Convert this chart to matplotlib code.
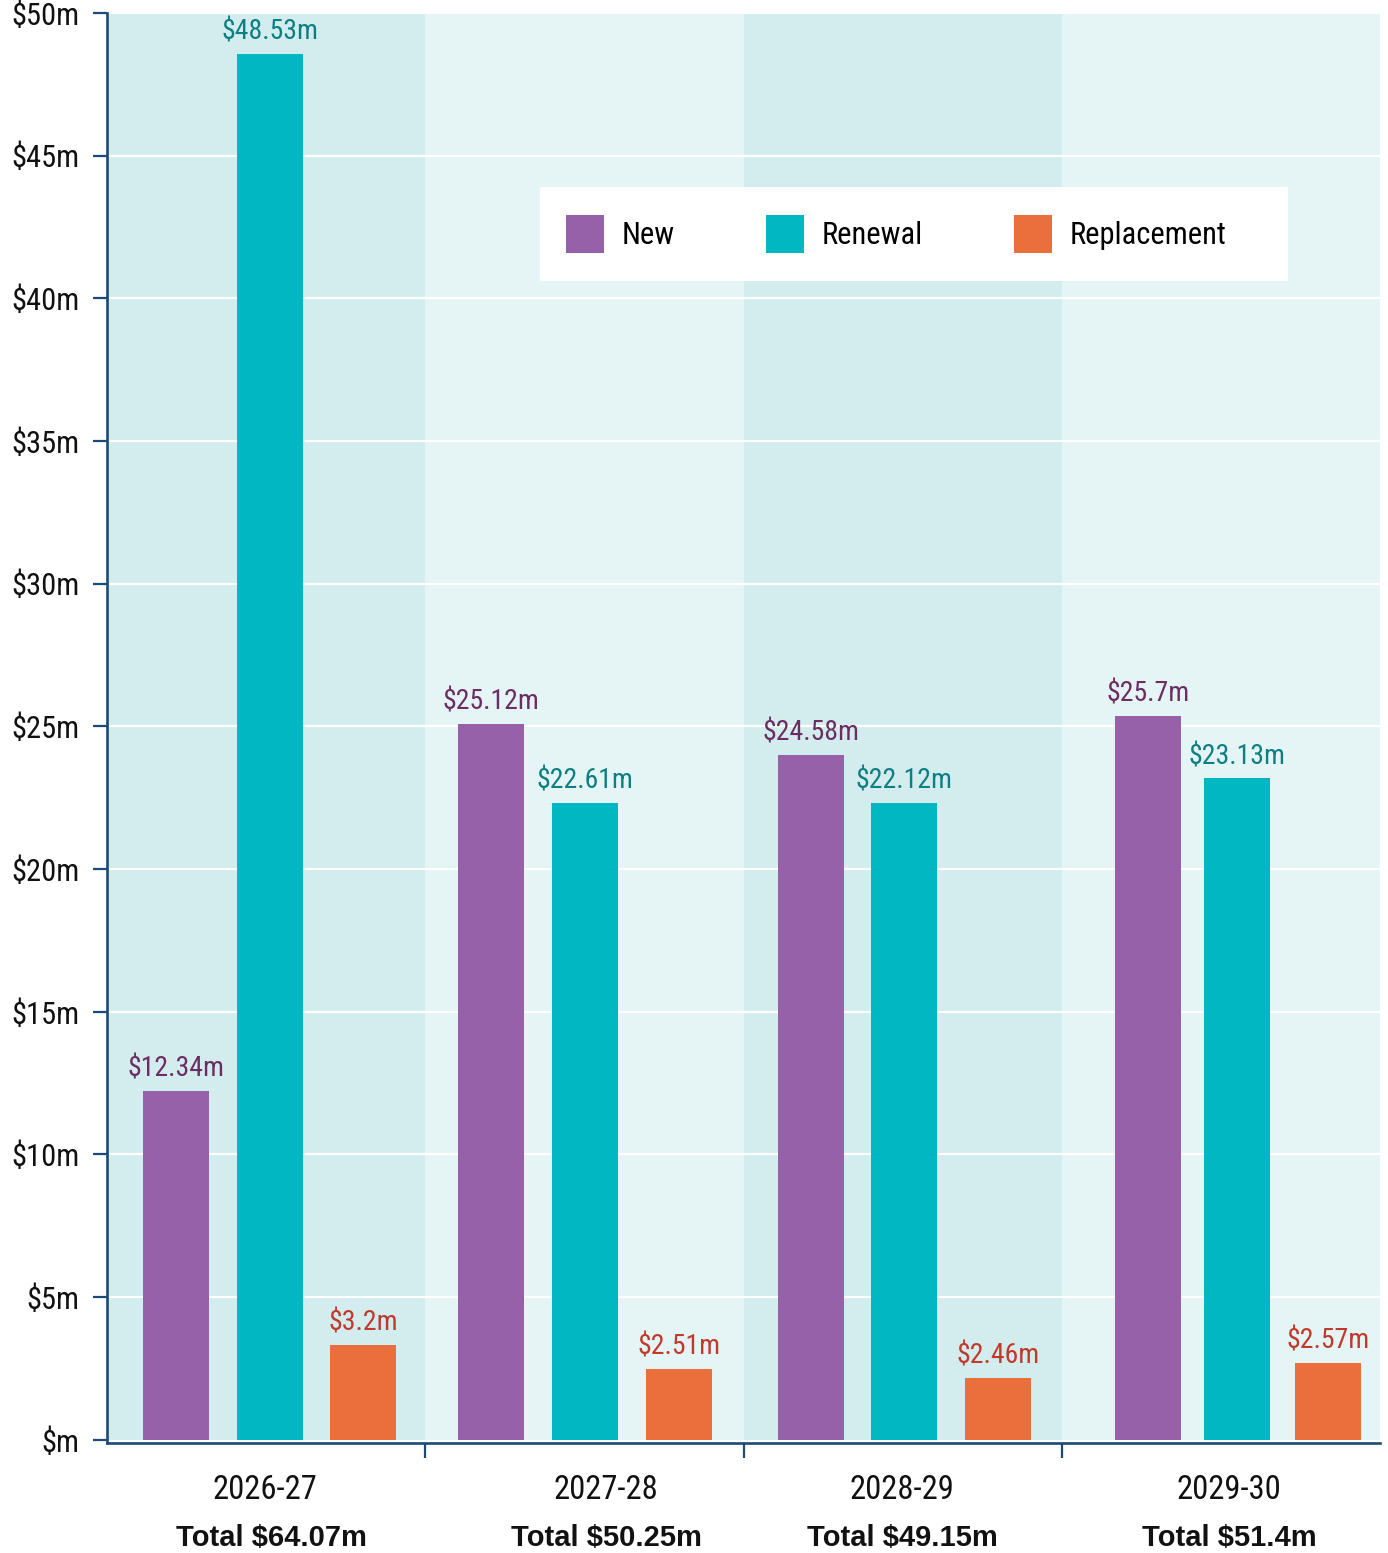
import matplotlib
matplotlib.use("Agg")
import matplotlib.pyplot as plt
from matplotlib.patches import Patch, Rectangle
from matplotlib import font_manager

# ---------------- data ----------------
years = ["2026-27", "2027-28", "2028-29", "2029-30"]
totals = ["Total $64.07m", "Total $50.25m", "Total $49.15m", "Total $51.4m"]
series = ["New", "Renewal", "Replacement"]
new_vals = [12.23, 25.10, 24.00, 25.37]
renewal_vals = [48.56, 22.33, 22.33, 23.18]
replacement_vals = [3.33, 2.49, 2.17, 2.70]
new_labels = ["$12.34m", "$25.12m", "$24.58m", "$25.7m"]
renewal_labels = ["$48.53m", "$22.61m", "$22.12m", "$23.13m"]
replacement_labels = ["$3.2m", "$2.51m", "$2.46m", "$2.57m"]
y_ticks = [0, 5, 10, 15, 20, 25, 30, 35, 40, 45, 50]
y_ticklabels = ["$m", "$5m", "$10m", "$15m", "$20m", "$25m", "$30m", "$35m", "$40m", "$45m", "$50m"]

# ---------------- layout ----------------
bar_pos = {
    "New": [0.217, 1.207, 2.212, 3.271],
    "Renewal": [0.512, 1.502, 2.504, 3.551],
    "Replacement": [0.804, 1.797, 2.800, 3.837],
}
year_label_x = [0.497, 1.568, 2.498, 3.526]
total_label_x = [0.516, 1.568, 2.498, 3.526]
bar_w = 0.207

colors = {"New": "#9661a8", "Renewal": "#00b7c2", "Replacement": "#eb6f3d"}
label_colors = {"New": "#6b2d62", "Renewal": "#0b7f82", "Replacement": "#c0392b"}
band_dark = "#d3ecee"
band_light = "#e5f4f4"
axis_col = "#1b4a78"

installed = {f.name for f in font_manager.fontManager.ttflist}
cond = None
for cand in ["Roboto Condensed", "Liberation Sans Narrow", "DejaVu Sans Condensed"]:
    if cand in installed:
        cond = cand
        break
if cond:
    base = [cond, "DejaVu Sans"]
    fs_tick, fs_lab, fs_leg, fs_year = 22, 20, 22, 23.5
else:
    base = ["Liberation Sans", "DejaVu Sans"]
    fs_tick, fs_lab, fs_leg, fs_year = 20, 18, 19, 20
plt.rcParams["font.family"] = base

W, H = 1388, 1553
fig = plt.figure(figsize=(W / 100, H / 100), dpi=100)
ax = fig.add_axes([107 / W, 1 - 1443 / H, 1273 / W, 1430 / H])
ax.set_xlim(0, 4)
ax.set_ylim(-0.11, 50)
ax.set_facecolor("white")

# background bands
for i in range(4):
    ax.bar(i + 0.5, 50, width=1.0, bottom=0, color=band_dark if i % 2 == 0 else band_light,
           zorder=0, linewidth=0)

# white gridlines
for t in y_ticks[1:]:
    ax.axhline(t, color="white", lw=1.6, zorder=1)

vals = {"New": new_vals, "Renewal": renewal_vals, "Replacement": replacement_vals}
labs = {"New": new_labels, "Renewal": renewal_labels, "Replacement": replacement_labels}
for s in series:
    ax.bar(bar_pos[s], vals[s], width=bar_w, color=colors[s], zorder=2, linewidth=0)
    for x, v, t in zip(bar_pos[s], vals[s], labs[s]):
        ax.annotate(t, (x, v), xytext=(0, 6), textcoords="offset points",
                    ha="center", va="bottom", fontsize=fs_lab, color=label_colors[s])

# spines / ticks
for side in ["top", "right"]:
    ax.spines[side].set_visible(False)
for side in ["left", "bottom"]:
    ax.spines[side].set_color(axis_col)
    ax.spines[side].set_linewidth(1.9)

ax.set_yticks(y_ticks)
ax.set_yticklabels(y_ticklabels)
ax.tick_params(axis="y", length=10, width=1.6, color=axis_col, pad=10,
               labelsize=fs_tick, labelcolor="#111111")
ax.set_xticks([1, 2, 3])
ax.set_xticklabels([])
ax.tick_params(axis="x", length=11, width=1.6, color=axis_col)

xt = ax.get_xaxis_transform()
for x, y in zip(year_label_x, years):
    ax.text(x, -0.0329, y, transform=xt, ha="center", va="center", fontsize=fs_year,
            color="#111111", clip_on=False)
for x, tot in zip(total_label_x, totals):
    ax.text(x, -0.0664, tot, transform=xt, ha="center", va="center", fontsize=21,
            fontweight="bold", family=["Liberation Sans", "DejaVu Sans"],
            color="#111111", clip_on=False)

# legend box (white panel) + legend
fig.patches.append(Rectangle((540 / W, 1 - 281 / H), 748 / W, 94 / H,
                             transform=fig.transFigure, facecolor="white",
                             edgecolor="none", zorder=4))
handles = [Patch(facecolor=colors[s], edgecolor="none") for s in series]
leg = fig.legend(handles, series, ncol=3, loc="center left",
                 bbox_to_anchor=(540 / W, 1 - 234 / H), bbox_transform=fig.transFigure,
                 borderaxespad=0, frameon=False, fontsize=fs_leg,
                 handlelength=1.24, handleheight=1.57, handletextpad=0.59,
                 columnspacing=2.97, borderpad=0.85)
leg.set_zorder(5)

fig.savefig("out.png", dpi=100)
